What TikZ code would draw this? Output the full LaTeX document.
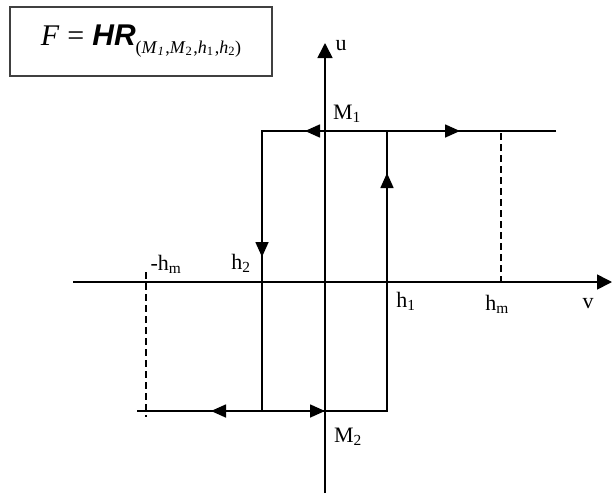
\documentclass[tikz,border=0pt]{standalone}
\usepackage{fontspec}
\setmainfont{Liberation Serif}
\setsansfont{Liberation Sans}
\usetikzlibrary{arrows.meta,positioning}

\begin{document}
\begin{tikzpicture}[x=1pt, y=-1pt, every node/.style={font=\fontsize{22}{24}\selectfont, inner sep=0pt},
  axis/.style={line width=1.6pt, -{Triangle[length=15pt,width=15pt]}},
  loopline/.style={line width=1.2pt},
  flow/.style={line width=1.6pt, -{Triangle[length=15pt,width=13pt]}},
  guide/.style={line width=1.2pt, dash pattern=on 7pt off 4pt}]
  \useasboundingbox (0,0) rectangle (612,498);
  % formula box
  \node[draw=black!75, line width=2pt, minimum width=262pt, minimum height=69pt] (law) at (141,41)
    {\fontsize{30}{32}\selectfont\itshape F\/\hspace{8pt}\upshape=\hspace{8pt}{\sffamily\bfseries\itshape HR}\raisebox{-8pt}{\fontsize{18}{18}\selectfont\upshape(\textit{M}\textsubscript{\textit{1}}\kern1pt,\textit{M}\textsubscript{2}\kern1pt,\textit{h}\textsubscript{1}\kern1pt,\textit{h}\textsubscript{2})}};
  % axes
  \coordinate (vL) at (73,282);
  \coordinate (vR) at (612,282);
  \coordinate (uB) at (325,493);
  \coordinate (uT) at (325,43);
  \draw[axis] (vL) -- (vR);
  \draw[axis] (uB) -- (uT);
  % loop corners
  \coordinate (tl) at (262,131);
  \coordinate (tr) at (556,131);
  \coordinate (ta) at (387,131);
  \coordinate (br) at (387,411);
  \coordinate (bl) at (137,411);
  \coordinate (bb) at (262,411);
  \coordinate (m2) at (325,411);
  \draw[loopline] (tr) -- (tl) -- (bb);
  \draw[loopline] (ta) -- (br) -- (bl);
  % direction arrows
  \coordinate (aTopL) at (305,131);
  \coordinate (aTopR) at (460,131);
  \coordinate (aUp) at (387,173);
  \coordinate (aDown) at (262,257);
  \coordinate (aBotL) at (211,411);
  \draw[flow] (ta) -- (aTopL);
  \draw[flow] (ta) -- (aTopR);
  \draw[flow] (br) -- (aUp);
  \draw[flow] (tl) -- (aDown);
  \draw[flow] (bb) -- (aBotL);
  \draw[flow] (bb) -- (m2);
  % limits
  \coordinate (hmT) at (501,133);
  \coordinate (hmB) at (501,282);
  \coordinate (nhT) at (146,272);
  \coordinate (nhB) at (146,417);
  \draw[guide] (hmT) -- (hmB);
  \draw[guide] (nhT) -- (nhB);
  % labels
  \node (u) at (341,46) {u};
  \node (v) at (588,304) {v};
  \node (M1) at (347,114) {M\textsubscript{1}};
  \node (M2) at (348,437) {M\textsubscript{2}};
  \node (h2) at (241,263) {h\textsubscript{2}};
  \node (nhm) at (166,264) {-h\textsubscript{m}};
  \node (h1) at (406,301) {h\textsubscript{1}};
  \node (hm) at (497,304) {h\textsubscript{m}};
\end{tikzpicture}
\end{document}
